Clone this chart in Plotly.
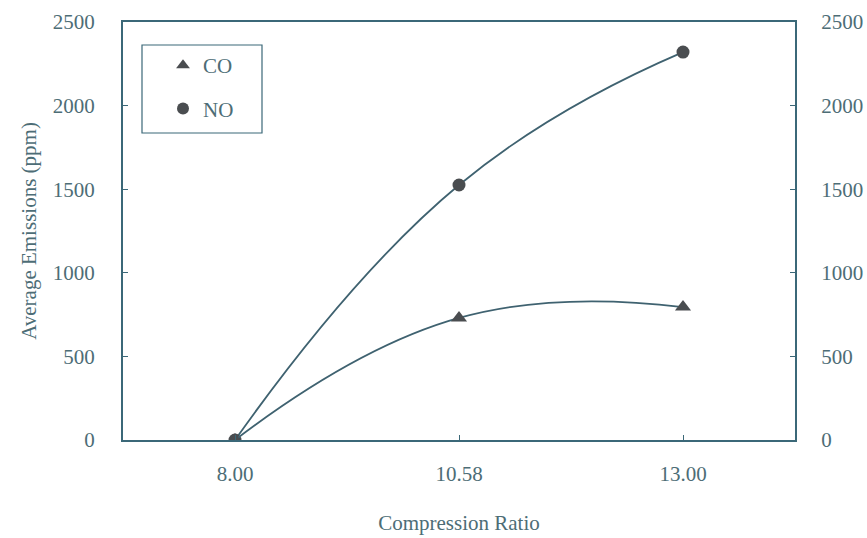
import plotly.graph_objects as go

categories = ["8.00", "10.58", "13.00"]
co_values = [0, 730, 795]
no_values = [0, 1525, 2320]
y_ticks = [0, 500, 1000, 1500, 2000, 2500]

FONT = "Liberation Serif, Times New Roman, serif"
TXT = "#4d6d76"
LINE = "#3f6270"
FRAME = "#3b6878"
MARK = "#4a4d50"

fig = go.Figure()
fig.add_trace(go.Scatter(x=categories, y=no_values, mode="lines+markers",
                         line=dict(color=LINE, width=1.8, shape="spline", smoothing=1.3),
                         marker=dict(symbol="circle", size=13, color=MARK),
                         showlegend=False))
fig.add_trace(go.Scatter(x=categories, y=co_values, mode="lines+markers",
                         line=dict(color=LINE, width=1.8, shape="spline", smoothing=1.3),
                         marker=dict(symbol="triangle-up", size=14, color=MARK),
                         showlegend=False))
fig.add_trace(go.Scatter(x=[None], y=[None], mode="markers", name="CO",
                         marker=dict(symbol="triangle-up", size=13, color=MARK)))
fig.add_trace(go.Scatter(x=[None], y=[None], mode="markers", name="NO",
                         marker=dict(symbol="circle", size=12, color=MARK)))
fig.add_trace(go.Scatter(x=categories, y=no_values, mode="markers", yaxis="y2",
                         marker=dict(opacity=0), showlegend=False, hoverinfo="skip"))

W, H = 867, 538
L, R, T, B = 123, 72, 22, 98
pw, ph = W - L - R, H - T - B

def px_to_paper(x, y):
    return (x - L) / pw, (H - B - y) / ph

x0, y0 = px_to_paper(142, 133)
x1, y1 = px_to_paper(262, 45)
fig.add_shape(type="rect", xref="paper", yref="paper", x0=x0, y0=y0, x1=x1, y1=y1,
              line=dict(color=FRAME, width=1.2), fillcolor="rgba(0,0,0,0)")

lx, ly = px_to_paper(163, 45)

fig.update_layout(
    width=W, height=H,
    margin=dict(l=L, r=R, t=T, b=B),
    paper_bgcolor="white", plot_bgcolor="white",
    font=dict(family=FONT, size=21, color=TXT),
    legend=dict(x=lx, y=ly, xanchor="left", yanchor="top",
                bgcolor="rgba(0,0,0,0)", borderwidth=0,
                font=dict(family=FONT, size=21, color=TXT),
                itemsizing="constant", tracegroupgap=13, traceorder="grouped"),
    xaxis=dict(type="category", range=[-0.5, 2.5], showgrid=False, zeroline=False,
               showline=True, linecolor=FRAME, linewidth=2, mirror=True,
               ticks="inside", ticklen=5, tickcolor=FRAME, automargin=False,
               ticklabelstandoff=14,
               title=dict(text="Compression Ratio", standoff=30,
                          font=dict(family=FONT, size=21, color=TXT))),
    yaxis=dict(range=[0, 2500], tickvals=y_ticks, showgrid=False, zeroline=False,
               showline=True, linecolor=FRAME, linewidth=2, automargin=False,
               ticks="inside", ticklen=5, tickcolor=FRAME,
               ticklabelstandoff=22,
               title=dict(text="Average Emissions (ppm)", standoff=10,
                          font=dict(family=FONT, size=21, color=TXT))),
    yaxis2=dict(range=[0, 2500], tickvals=y_ticks, overlaying="y", side="right",
                showgrid=False, zeroline=False, showline=True, linecolor=FRAME,
                linewidth=2, ticks="inside", ticklen=5, tickcolor=FRAME,
                automargin=False, ticklabelstandoff=20),
)
fig.data[2].legendgroup = "a"
fig.data[3].legendgroup = "b"

fig.write_html("out.html")
